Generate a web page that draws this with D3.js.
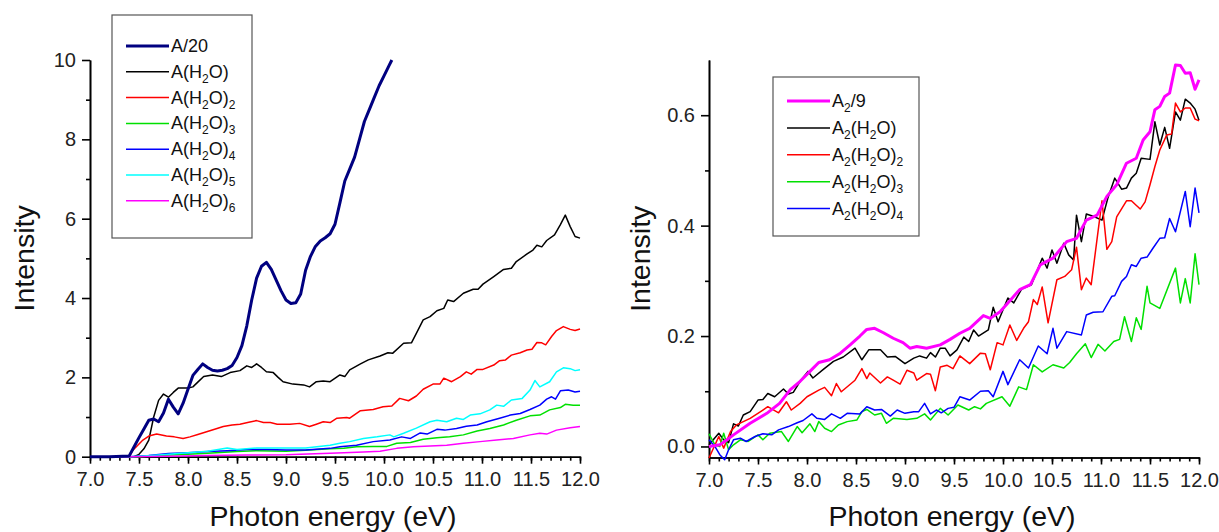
<!DOCTYPE html>
<html>
<head>
<meta charset="utf-8">
<script src="https://cdn.jsdelivr.net/npm/d3@7"></script>
<style>
  body { margin: 0; background: #fff; }
  svg { display: block; font-family: "Liberation Sans", Arial, sans-serif; }
  .axis path, .axis line { stroke: #000; stroke-width: 1.6; }
  .axis text { font-size: 20px; fill: #222; }
</style>
</head>
<body>
<div id="chart"></div>
<script>
// ---------- data (photon energy eV, intensity) ----------
// left panel
const A_20 = [[7.0,0],[7.2,0],[7.4,0.02],[7.45,0.25],[7.5,0.48],[7.55,0.7],[7.6,0.92],[7.65,0.95],[7.7,0.88],[7.75,1.1],[7.8,1.45],[7.85,1.25],[7.9,1.08],[7.95,1.35],[8.0,1.7],[8.05,2.05],[8.1,2.2],[8.15,2.34],[8.2,2.25],[8.25,2.18],[8.3,2.16],[8.35,2.18],[8.4,2.22],[8.45,2.3],[8.5,2.5],[8.55,2.8],[8.6,3.3],[8.65,3.95],[8.7,4.5],[8.75,4.8],[8.8,4.9],[8.85,4.72],[8.9,4.45],[8.95,4.18],[9.0,3.95],[9.05,3.86],[9.1,3.88],[9.15,4.1],[9.2,4.7],[9.25,5.05],[9.3,5.3],[9.35,5.44],[9.4,5.52],[9.45,5.62],[9.5,5.86],[9.55,6.4],[9.6,6.95],[9.65,7.25],[9.7,7.55],[9.75,8.0],[9.8,8.45],[9.85,8.75],[9.9,9.05],[9.95,9.35],[10.0,9.6],[10.05,9.85],[10.08,10.0]];
const A_H2O = [[7.0,0],[7.45,0],[7.5,0.06],[7.55,0.2],[7.6,0.42],[7.65,1.0],[7.7,1.42],[7.75,1.58],[7.8,1.5],[7.85,1.62],[7.9,1.73],[8.0,1.73],[8.05,1.76],[8.1,1.88],[8.16,2.02],[8.25,2.06],[8.34,2.02],[8.43,2.12],[8.53,2.17],[8.6,2.29],[8.65,2.25],[8.7,2.34],[8.75,2.25],[8.8,2.14],[8.87,2.12],[8.92,2.0],[8.97,1.89],[9.07,1.83],[9.18,1.81],[9.24,1.76],[9.31,1.89],[9.38,1.91],[9.45,1.89],[9.55,2.06],[9.6,2.02],[9.65,2.19],[9.76,2.34],[9.84,2.44],[9.96,2.54],[10.04,2.62],[10.09,2.61],[10.2,2.86],[10.28,2.87],[10.33,3.11],[10.4,3.45],[10.47,3.53],[10.54,3.68],[10.61,3.74],[10.65,3.95],[10.71,3.91],[10.81,4.12],[10.91,4.22],[10.96,4.22],[11.01,4.35],[11.12,4.54],[11.22,4.72],[11.3,4.75],[11.35,4.92],[11.46,5.11],[11.52,5.21],[11.56,5.33],[11.61,5.29],[11.66,5.45],[11.74,5.59],[11.8,5.85],[11.85,6.09],[11.9,5.8],[11.95,5.55],[12.0,5.51]];
const A_H2O_2 = [[7.0,0],[7.4,0],[7.44,0.17],[7.54,0.42],[7.6,0.52],[7.68,0.57],[7.78,0.52],[7.86,0.5],[7.95,0.46],[8.02,0.5],[8.1,0.56],[8.19,0.63],[8.28,0.7],[8.36,0.76],[8.45,0.8],[8.53,0.82],[8.62,0.87],[8.7,0.91],[8.77,0.86],[8.84,0.86],[8.91,0.82],[9.04,0.82],[9.14,0.84],[9.24,0.76],[9.31,0.82],[9.38,0.88],[9.45,0.86],[9.52,0.97],[9.62,0.99],[9.65,0.97],[9.76,1.16],[9.89,1.19],[9.99,1.26],[10.08,1.28],[10.16,1.47],[10.25,1.41],[10.33,1.53],[10.4,1.7],[10.5,1.83],[10.57,1.83],[10.61,1.98],[10.69,1.89],[10.78,2.02],[10.84,2.14],[10.89,2.08],[10.95,2.2],[11.01,2.2],[11.12,2.31],[11.18,2.42],[11.24,2.44],[11.3,2.56],[11.39,2.62],[11.46,2.69],[11.51,2.71],[11.56,2.88],[11.61,2.87],[11.65,2.82],[11.71,3.03],[11.76,3.18],[11.83,3.28],[11.9,3.21],[11.95,3.18],[12.0,3.22]];
const A_H2O_3 = [[7.0,0],[7.5,0],[7.7,0.03],[8.0,0.06],[8.2,0.09],[8.5,0.13],[8.7,0.15],[9.0,0.14],[9.2,0.16],[9.45,0.2],[9.59,0.21],[9.72,0.25],[9.89,0.26],[10.03,0.26],[10.13,0.34],[10.27,0.36],[10.4,0.44],[10.54,0.48],[10.67,0.5],[10.81,0.55],[10.95,0.65],[11.08,0.71],[11.22,0.8],[11.35,0.92],[11.49,1.03],[11.59,1.05],[11.69,1.18],[11.8,1.24],[11.85,1.32],[11.93,1.3],[12.0,1.3]];
const A_H2O_4 = [[7.0,0],[7.4,0],[7.6,0.03],[7.8,0.08],[8.0,0.1],[8.2,0.13],[8.4,0.15],[8.6,0.18],[8.8,0.18],[9.0,0.17],[9.2,0.17],[9.45,0.21],[9.55,0.25],[9.72,0.29],[9.89,0.38],[10.06,0.42],[10.18,0.5],[10.27,0.46],[10.37,0.6],[10.44,0.57],[10.54,0.69],[10.62,0.67],[10.74,0.71],[10.84,0.77],[10.95,0.8],[11.05,0.88],[11.18,0.97],[11.29,1.05],[11.39,1.09],[11.49,1.19],[11.59,1.3],[11.66,1.45],[11.71,1.51],[11.75,1.45],[11.8,1.66],[11.88,1.68],[11.95,1.63],[12.0,1.65]];
const A_H2O_5 = [[7.0,0],[7.4,0],[7.5,0.01],[7.7,0.04],[8.0,0.1],[8.2,0.14],[8.4,0.22],[8.5,0.18],[8.7,0.22],[9.0,0.22],[9.2,0.22],[9.45,0.29],[9.55,0.34],[9.65,0.38],[9.79,0.46],[9.93,0.5],[10.06,0.55],[10.1,0.5],[10.2,0.59],[10.33,0.72],[10.47,0.88],[10.54,0.92],[10.64,0.88],[10.74,0.97],[10.81,0.94],[10.88,1.05],[10.98,1.08],[11.08,1.18],[11.15,1.3],[11.22,1.27],[11.3,1.43],[11.41,1.47],[11.49,1.68],[11.54,1.92],[11.59,1.76],[11.69,1.89],[11.76,2.14],[11.83,2.24],[11.9,2.22],[11.95,2.17],[12.0,2.19]];
const A_H2O_6 = [[7.0,0],[7.4,0],[7.8,0.01],[8.2,0.03],[8.6,0.04],[9.0,0.05],[9.45,0.09],[9.59,0.1],[9.79,0.12],[9.96,0.14],[10.13,0.21],[10.3,0.25],[10.47,0.27],[10.64,0.29],[10.81,0.34],[10.98,0.38],[11.15,0.42],[11.32,0.46],[11.49,0.55],[11.59,0.59],[11.66,0.57],[11.76,0.67],[11.9,0.73],[12.0,0.76]];

// right panel
const A2_9 = [[7.0,0],[7.11,0.003],[7.16,0.009],[7.25,0.021],[7.42,0.042],[7.59,0.06],[7.72,0.078],[7.83,0.103],[7.93,0.118],[8.03,0.136],[8.12,0.152],[8.23,0.157],[8.34,0.169],[8.44,0.184],[8.54,0.2],[8.61,0.212],[8.69,0.214],[8.78,0.206],[8.88,0.196],[8.98,0.188],[9.05,0.178],[9.12,0.181],[9.22,0.178],[9.36,0.184],[9.46,0.194],[9.56,0.205],[9.66,0.214],[9.8,0.237],[9.87,0.232],[9.97,0.244],[10.07,0.264],[10.17,0.284],[10.28,0.293],[10.38,0.329],[10.51,0.341],[10.65,0.371],[10.75,0.377],[10.85,0.41],[10.96,0.419],[11.06,0.453],[11.16,0.474],[11.26,0.513],[11.36,0.522],[11.43,0.555],[11.5,0.57],[11.55,0.61],[11.6,0.616],[11.65,0.634],[11.7,0.64],[11.76,0.691],[11.81,0.69],[11.86,0.676],[11.91,0.677],[11.96,0.647],[12.0,0.664]];
const A2_H2O = [[7.0,0.003],[7.1,0.024],[7.15,0.012],[7.2,0.007],[7.25,0.041],[7.3,0.037],[7.35,0.057],[7.42,0.063],[7.5,0.084],[7.55,0.085],[7.6,0.096],[7.67,0.09],[7.76,0.104],[7.81,0.095],[7.86,0.098],[7.93,0.118],[8.01,0.136],[8.06,0.124],[8.17,0.14],[8.27,0.154],[8.37,0.162],[8.49,0.178],[8.56,0.157],[8.63,0.175],[8.75,0.175],[8.82,0.162],[8.9,0.163],[9.0,0.15],[9.09,0.16],[9.15,0.164],[9.22,0.16],[9.26,0.17],[9.31,0.162],[9.36,0.178],[9.41,0.178],[9.46,0.164],[9.53,0.175],[9.6,0.198],[9.65,0.19],[9.7,0.211],[9.75,0.2],[9.85,0.211],[9.9,0.252],[9.95,0.226],[10.05,0.269],[10.11,0.26],[10.19,0.285],[10.29,0.293],[10.4,0.341],[10.45,0.323],[10.5,0.356],[10.55,0.332],[10.62,0.368],[10.67,0.347],[10.72,0.338],[10.75,0.419],[10.8,0.371],[10.85,0.421],[10.92,0.417],[11.01,0.41],[11.07,0.45],[11.14,0.486],[11.21,0.466],[11.26,0.468],[11.31,0.486],[11.36,0.495],[11.41,0.522],[11.5,0.52],[11.55,0.588],[11.6,0.546],[11.65,0.578],[11.7,0.54],[11.76,0.606],[11.81,0.591],[11.86,0.629],[11.91,0.622],[11.96,0.611],[12.0,0.591]];
const A2_H2O_2 = [[7.0,-0.021],[7.1,0.018],[7.15,-0.003],[7.22,0.027],[7.28,0.039],[7.42,0.051],[7.55,0.066],[7.6,0.072],[7.71,0.061],[7.79,0.081],[7.84,0.066],[7.93,0.078],[8.0,0.09],[8.12,0.102],[8.18,0.107],[8.25,0.092],[8.3,0.114],[8.35,0.099],[8.49,0.12],[8.56,0.141],[8.61,0.123],[8.64,0.133],[8.75,0.115],[8.82,0.126],[8.88,0.12],[8.95,0.113],[9.02,0.138],[9.09,0.133],[9.12,0.12],[9.22,0.132],[9.26,0.131],[9.31,0.101],[9.36,0.144],[9.43,0.147],[9.49,0.141],[9.56,0.164],[9.66,0.15],[9.77,0.169],[9.82,0.168],[9.87,0.139],[9.94,0.188],[10.0,0.184],[10.07,0.22],[10.14,0.192],[10.21,0.214],[10.26,0.226],[10.31,0.266],[10.35,0.257],[10.4,0.289],[10.46,0.224],[10.55,0.302],[10.63,0.308],[10.7,0.32],[10.75,0.361],[10.8,0.284],[10.85,0.305],[10.9,0.293],[11.01,0.445],[11.06,0.357],[11.11,0.371],[11.16,0.416],[11.26,0.445],[11.31,0.445],[11.4,0.43],[11.45,0.443],[11.5,0.474],[11.55,0.507],[11.6,0.537],[11.67,0.564],[11.72,0.566],[11.76,0.622],[11.81,0.606],[11.86,0.613],[11.91,0.613],[11.96,0.593],[12.0,0.59]];
const A2_H2O_3 = [[7.0,0.023],[7.06,0.003],[7.11,0.0],[7.15,0.024],[7.2,-0.006],[7.25,0.003],[7.32,0.012],[7.4,0.009],[7.5,0.021],[7.55,0.012],[7.62,0.024],[7.74,0.027],[7.81,0.009],[7.9,0.036],[7.95,0.025],[8.03,0.041],[8.08,0.027],[8.12,0.045],[8.18,0.033],[8.25,0.027],[8.32,0.039],[8.41,0.045],[8.51,0.048],[8.56,0.063],[8.61,0.067],[8.69,0.057],[8.76,0.06],[8.81,0.042],[8.88,0.051],[9.02,0.049],[9.12,0.051],[9.2,0.059],[9.26,0.048],[9.36,0.069],[9.44,0.057],[9.54,0.075],[9.65,0.066],[9.71,0.072],[9.77,0.068],[9.83,0.078],[9.99,0.09],[10.07,0.073],[10.16,0.108],[10.24,0.103],[10.31,0.148],[10.4,0.135],[10.51,0.148],[10.62,0.142],[10.68,0.152],[10.75,0.168],[10.84,0.186],[10.9,0.161],[10.97,0.185],[11.04,0.173],[11.13,0.19],[11.19,0.194],[11.24,0.235],[11.31,0.19],[11.36,0.233],[11.41,0.212],[11.47,0.29],[11.5,0.26],[11.6,0.25],[11.76,0.323],[11.81,0.26],[11.86,0.304],[11.91,0.26],[11.96,0.349],[12.0,0.293]];
const A2_H2O_4 = [[7.0,0.012],[7.06,0.0],[7.11,-0.015],[7.16,-0.024],[7.2,-0.006],[7.25,0.012],[7.32,0.015],[7.38,0.009],[7.47,0.018],[7.55,0.023],[7.64,0.021],[7.71,0.03],[7.81,0.036],[7.9,0.043],[7.96,0.047],[8.05,0.059],[8.1,0.051],[8.18,0.049],[8.25,0.059],[8.34,0.051],[8.41,0.06],[8.54,0.059],[8.61,0.072],[8.69,0.066],[8.76,0.067],[8.85,0.055],[8.92,0.066],[9.0,0.06],[9.09,0.063],[9.14,0.063],[9.2,0.078],[9.26,0.059],[9.32,0.066],[9.37,0.061],[9.44,0.069],[9.5,0.071],[9.56,0.09],[9.66,0.084],[9.77,0.1],[9.85,0.101],[9.9,0.09],[10.0,0.136],[10.05,0.112],[10.17,0.157],[10.26,0.142],[10.36,0.182],[10.45,0.168],[10.51,0.214],[10.55,0.178],[10.65,0.208],[10.8,0.202],[10.85,0.238],[10.92,0.243],[11.02,0.244],[11.11,0.272],[11.14,0.273],[11.21,0.299],[11.26,0.308],[11.31,0.329],[11.36,0.326],[11.41,0.341],[11.47,0.343],[11.53,0.359],[11.6,0.377],[11.65,0.378],[11.7,0.413],[11.76,0.389],[11.86,0.462],[11.91,0.398],[11.96,0.468],[12.0,0.423]];

const X_TICKS = [7.0, 7.5, 8.0, 8.5, 9.0, 9.5, 10.0, 10.5, 11.0, 11.5, 12.0];
const Y_TICKS_LEFT = [0, 2, 4, 6, 8, 10];
const Y_TICKS_RIGHT = [0.0, 0.2, 0.4, 0.6];

const LEFT_SERIES = [
  {label: "A/20", data: A_20, color: "#000080", width: 3},
  {label: "A(H_2O)", data: A_H2O, color: "#000000", width: 1.5},
  {label: "A(H_2O)_2", data: A_H2O_2, color: "#ff0000", width: 1.5},
  {label: "A(H_2O)_3", data: A_H2O_3, color: "#00e000", width: 1.5},
  {label: "A(H_2O)_4", data: A_H2O_4, color: "#0000ff", width: 1.5},
  {label: "A(H_2O)_5", data: A_H2O_5, color: "#00ffff", width: 1.5},
  {label: "A(H_2O)_6", data: A_H2O_6, color: "#ff00ff", width: 1.5}
];
const RIGHT_SERIES = [
  {label: "A_2/9", data: A2_9, color: "#ff00ff", width: 3},
  {label: "A_2(H_2O)", data: A2_H2O, color: "#000000", width: 1.5},
  {label: "A_2(H_2O)_2", data: A2_H2O_2, color: "#ff0000", width: 1.5},
  {label: "A_2(H_2O)_3", data: A2_H2O_3, color: "#00e000", width: 1.5},
  {label: "A_2(H_2O)_4", data: A2_H2O_4, color: "#0000ff", width: 1.5}
];

// ---------- frame ----------
const FRAME_WIDTH = 1219;
const FRAME_HEIGHT = 532;

const SVG = d3.select("#chart")
  .append("svg")
    .attr("width", FRAME_WIDTH)
    .attr("height", FRAME_HEIGHT);

function range(a, b, step) {
  const out = [];
  for (let v = a; v <= b + 1e-9; v += step) out.push(+v.toFixed(3));
  return out;
}

// writes "A(H_2O)_2" with subscripts as tspans
function richText(sel, str, size, subSize) {
  const parts = [];
  for (let i = 0; i < str.length; i++) {
    if (str[i] === "_") { parts.push({t: str[i + 1], sub: true}); i++; }
    else if (parts.length && !parts[parts.length - 1].sub) parts[parts.length - 1].t += str[i];
    else parts.push({t: str[i], sub: false});
  }
  let down = false;
  parts.forEach((p) => {
    const ts = sel.append("tspan").text(p.t);
    if (p.sub) {
      ts.attr("font-size", subSize).attr("dy", down ? 0 : 5);
      down = true;
    } else {
      ts.attr("font-size", size).attr("dy", down ? -5 : 0);
      down = false;
    }
  });
}

function buildPanel(cfg) {
  const X = d3.scaleLinear().domain([7, 12]).range([cfg.left, cfg.left + 490]);
  const Y = d3.scaleLinear().domain(cfg.yDomain).range([cfg.bottom, 60]);

  const g = SVG.append("g");

  // minor ticks
  g.append("g")
    .attr("class", "axis")
    .attr("transform", "translate(0," + cfg.bottom + ")")
    .call(d3.axisBottom(X).tickValues(range(7, 12, 0.1)).tickSize(4).tickSizeOuter(0).tickFormat(""));
  g.append("g")
    .attr("class", "axis")
    .attr("transform", "translate(" + cfg.left + ",0)")
    .call(d3.axisLeft(Y).tickValues(cfg.yMinor).tickSize(4).tickSizeOuter(0).tickFormat(""));

  // major ticks
  g.append("g")
    .attr("class", "axis")
    .attr("transform", "translate(0," + cfg.bottom + ")")
    .call(d3.axisBottom(X).tickValues(X_TICKS).tickSize(7).tickSizeOuter(0).tickPadding(8).tickFormat(d3.format(".1f")));
  g.append("g")
    .attr("class", "axis")
    .attr("transform", "translate(" + cfg.left + ",0)")
    .call(d3.axisLeft(Y).tickValues(cfg.yTicks).tickSize(8).tickSizeOuter(0).tickPadding(6).tickFormat(cfg.yFormat));

  // curves, thick one on top
  const line = d3.line().x((d) => X(d[0])).y((d) => Y(d[1]));
  cfg.series.slice(1).concat([cfg.series[0]]).forEach((s) => {
    g.append("path")
      .datum(s.data)
      .attr("fill", "none")
      .attr("stroke", s.color)
      .attr("stroke-width", s.width)
      .attr("stroke-linejoin", "round")
      .attr("d", line);
  });

  // axis titles
  g.append("text")
    .attr("x", cfg.left + 243)
    .attr("y", 526)
    .attr("text-anchor", "middle")
    .style("font-size", "28.5px")
    .style("fill", "#111")
    .text("Photon energy (eV)");
  g.append("text")
    .attr("transform", "translate(" + cfg.titleX + "," + ((60 + cfg.bottom) / 2) + ") rotate(-90)")
    .attr("text-anchor", "middle")
    .style("font-size", "28.5px")
    .style("fill", "#111")
    .text("Intensity");

  // legend
  const L = cfg.legend;
  g.append("rect")
    .attr("x", L.x).attr("y", L.y)
    .attr("width", L.w).attr("height", L.h)
    .attr("fill", "#fff")
    .attr("stroke", "#555")
    .attr("stroke-width", 1.2);
  cfg.series.forEach((s, i) => {
    const yy = L.row0 + i * L.step;
    g.append("line")
      .attr("x1", L.x + 14).attr("x2", L.x + 57)
      .attr("y1", yy).attr("y2", yy)
      .attr("stroke", s.color)
      .attr("stroke-width", s.width);
    const t = g.append("text")
      .attr("x", L.x + 59)
      .attr("y", yy + 6)
      .style("font-size", "18px")
      .style("fill", "#111");
    richText(t, s.label, 18, 12);
  });
}

buildPanel({
  left: 90, bottom: 456.7, yDomain: [0, 10],
  yTicks: Y_TICKS_LEFT, yMinor: [1, 3, 5, 7, 9], yFormat: d3.format("d"),
  series: LEFT_SERIES, titleX: 34,
  legend: {x: 112, y: 15, w: 140, h: 223, row0: 46, step: 25.8}
});

buildPanel({
  left: 709, bottom: 457.5, yDomain: [-0.02, 0.7],
  yTicks: Y_TICKS_RIGHT, yMinor: [0.1, 0.3, 0.5], yFormat: d3.format(".1f"),
  series: RIGHT_SERIES, titleX: 650,
  legend: {x: 773, y: 77, w: 146, h: 159, row0: 101, step: 26.9}
});
</script>
</body>
</html>
